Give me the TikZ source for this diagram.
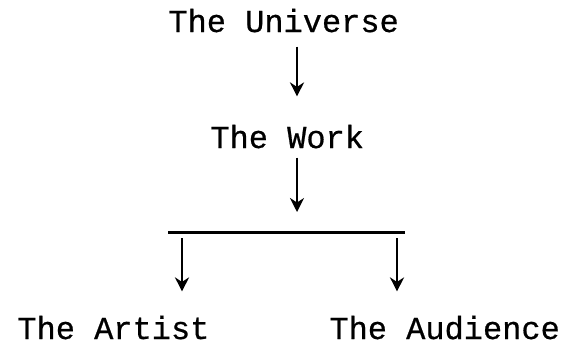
\documentclass[tikz,border=0pt]{standalone}
\usepackage{fontspec}
\setmonofont[FakeBold=0.6]{Liberation Mono}
\usetikzlibrary{arrows.meta,positioning}

\begin{document}
\begin{tikzpicture}[
  x=0.5pt, y=-0.5pt,
  rotulo/.style={inner sep=0pt, font=\ttfamily\fontsize{16}{19}\selectfont},
  seta/.style={-{Stealth[length=7pt,width=7pt]}, line width=1.45pt},
  barra/.style={line width=1.5pt}
]
  \useasboundingbox (0,0) rectangle (565,344);

  % texts
  \node[rotulo, anchor=base west] (universe) at (168,32) {The Universe};
  \node[rotulo, anchor=base west] (work) at (210,148) {The Work};
  \node[rotulo, anchor=base west] (artist) at (17,339) {The Artist};
  \node[rotulo, anchor=base west] (audience) at (329,339) {The Audience};

  % branching bar
  \coordinate (eixo) at (297,0);
  \coordinate (barraE) at (168,232);
  \coordinate (barraD) at (405,232);
  \coordinate (meio) at (297,232);
  \coordinate (esq) at (182,0);
  \coordinate (dir) at (397,0);

  \draw[seta, shorten <=14pt/2, shorten >=28pt/2] (universe.south -| eixo) -- (work.north -| eixo);
  \draw[seta, shorten <=9pt/2, shorten >=20pt/2] (work.south -| eixo) -- (meio);
  \draw[barra] (barraE) -- (barraD);
  \draw[seta, shorten <=6pt/2, shorten >=24pt/2] (meio -| esq) -- (artist.north -| esq);
  \draw[seta, shorten <=6pt/2, shorten >=24pt/2] (meio -| dir) -- (audience.north -| dir);
\end{tikzpicture}
\end{document}
